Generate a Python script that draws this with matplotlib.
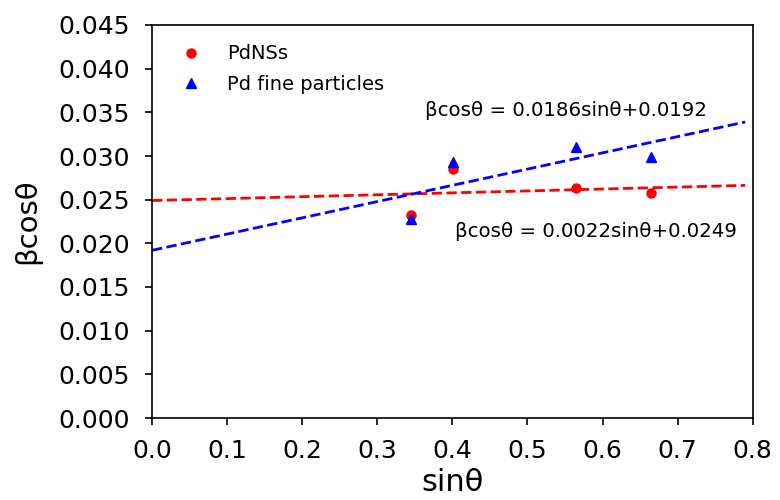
import matplotlib
matplotlib.use("Agg")
import matplotlib.pyplot as plt
import numpy as np

sin_theta = [0.345, 0.401, 0.565, 0.664]
pdnss = [0.0233, 0.0285, 0.0263, 0.0258]
pd_fine = [0.0228, 0.0293, 0.0310, 0.0299]
fit_red = (0.0022, 0.0249)
fit_blue = (0.0186, 0.0192)

fig = plt.figure(figsize=(7.8, 5), dpi=100)
ax = fig.add_axes([0.195, 0.164, 0.77, 0.786])

ax.plot(sin_theta, pdnss, 'o', color='red', markersize=6.5, label='PdNSs')
ax.plot(sin_theta, pd_fine, '^', color='blue', markersize=6.5, label='Pd fine particles')
xs = np.array([0.0, 0.79])
ax.plot(xs, fit_red[0] * xs + fit_red[1], '--', color='red', lw=2)
ax.plot(xs, fit_blue[0] * xs + fit_blue[1], '--', color='blue', lw=2)

ax.text(0.364, 0.0346, 'βcosθ = 0.0186sinθ+0.0192', fontsize=14.2)
ax.text(0.403, 0.0207, 'βcosθ = 0.0022sinθ+0.0249', fontsize=14.2)

ax.set_xlim(0, 0.8)
ax.set_ylim(0, 0.045)
ax.set_xticks(np.arange(0, 0.81, 0.1))
ax.set_yticks(np.arange(0, 0.0451, 0.005))
ax.set_xticklabels([f'{v:.1f}' for v in np.arange(0, 0.81, 0.1)])
ax.set_yticklabels([f'{v:.3f}' for v in np.arange(0, 0.0451, 0.005)])
ax.tick_params(labelsize=18, length=5, width=1.2)
ax.tick_params(axis='y', pad=11)
ax.tick_params(axis='x', pad=10)
for s in ax.spines.values():
    s.set_linewidth(1.2)
ax.set_xlabel('sinθ', fontsize=22, labelpad=4)
ax.set_ylabel('βcosθ', fontsize=21, labelpad=12)
ax.legend(loc='upper left', frameon=False, fontsize=14, handletextpad=0.85,
          bbox_to_anchor=(0.004, 0.995), labelspacing=0.6)

fig.savefig('out.png', dpi=100)
